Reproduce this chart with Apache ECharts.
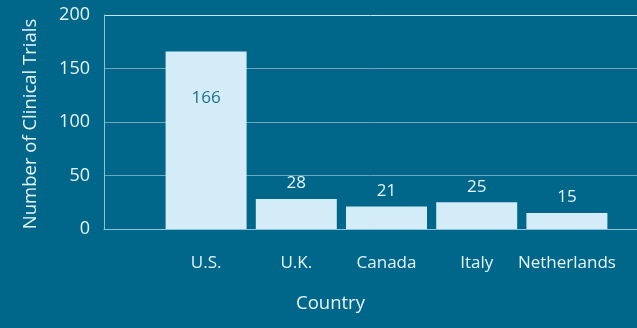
<!DOCTYPE html>
<html><head><meta charset="utf-8">
<script src="https://cdn.jsdelivr.net/npm/echarts@6/dist/echarts.min.js"></script>
<style>html,body{margin:0;padding:0;background:#00678a;}#c{width:637px;height:328px;}</style>
</head><body><div id="c"></div>
<script>
const categories = ['U.S.', 'U.K.', 'Canada', 'Italy', 'Netherlands'];
const trials = [166, 28, 21, 25, 15];
const yTicks = [0, 50, 100, 150, 200];

const FONT = '"Open Sans", "Noto Sans", sans-serif';
const chart = echarts.init(document.getElementById('c'));
chart.setOption({
  backgroundColor: '#00678a',
  animation: false,
  title: {
    text: 'Country', left: 291, top: 289,
    textStyle: { color: '#e6f4fb', fontFamily: FONT, fontSize: 18.5, fontWeight: 'normal' }
  },
  grid: [
    { left: 104, right: 0, top: 15, bottom: 99 },
    { left: 161, width: 451, top: 15, bottom: 99 }
  ],
  xAxis: [
    { gridIndex: 0, type: 'value', min: 0, max: 1, axisLine: { show: true, onZero: false, lineStyle: { color: '#8cc3da', width: 1 } },
      axisTick: { show: false }, axisLabel: { show: false }, splitLine: { show: false } },
    { gridIndex: 1, type: 'category', data: categories, axisLine: { show: false }, axisTick: { show: false },
      axisLabel: { color: '#e6f4fb', fontFamily: FONT, fontSize: 17, margin: 26, interval: 0 } }
  ],
  yAxis: [
    { gridIndex: 0, type: 'value', min: yTicks[0], max: yTicks[yTicks.length - 1], interval: 50,
      name: 'Number of Clinical Trials', nameLocation: 'middle', nameGap: 64,
      nameTextStyle: { color: '#e6f4fb', fontFamily: FONT, fontSize: 18.5, padding: [0, 4, 0, 0] },
      axisLine: { show: true, lineStyle: { color: '#8cc3da', width: 1 } }, axisTick: { show: false },
      axisLabel: { color: '#e6f4fb', fontFamily: FONT, fontSize: 18, margin: 14 },
      splitLine: { show: true, lineStyle: { color: ['#8cc3da', '#6ea6bd', '#6ea6bd', '#6ea6bd', '#c5e6f4'], width: 1 } } },
    { gridIndex: 1, type: 'value', min: 0, max: 200, show: false, splitLine: { show: false } }
  ],
  series: [{
    type: 'bar', xAxisIndex: 1, yAxisIndex: 1, data: trials.map((v, i) => i === 0 ? {
      value: v, label: { position: 'insideTop', distance: 38, color: '#1d6f8f' } } : v),
    barWidth: 81,
    itemStyle: { color: '#d3ecf8' },
    label: { show: true, position: 'top', distance: 7, color: '#e6f4fb', fontFamily: FONT, fontSize: 17 }
  }]
});
</script></body></html>
